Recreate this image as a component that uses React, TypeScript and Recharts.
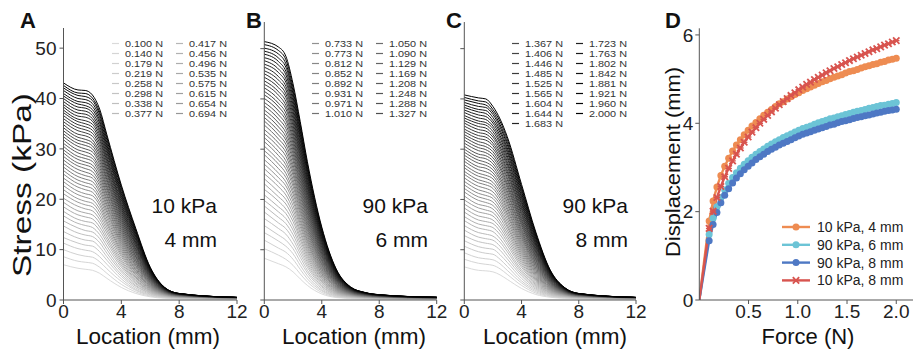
import React from "react";
import { LineChart, Line, XAxis, YAxis } from "recharts";

const FONT = "'Liberation Sans', Arial, Helvetica, sans-serif";
const AXIS = "#555";

// sample locations along the sensor (mm)
const locations = [0, 1, 1.5, 2, 2.5, 3, 4, 5, 6, 7, 8, 12];

// applied forces (N), also used as legend text
const forceLabels = [
  "0.100", "0.140", "0.179", "0.219", "0.258", "0.298", "0.338", "0.377",
  "0.417", "0.456", "0.496", "0.535", "0.575", "0.615", "0.654", "0.694",
  "0.733", "0.773", "0.812", "0.852", "0.892", "0.931", "0.971", "1.010",
  "1.050", "1.090", "1.129", "1.169", "1.208", "1.248", "1.288", "1.327",
  "1.367", "1.406", "1.446", "1.485", "1.525", "1.565", "1.604", "1.644",
  "1.683", "1.723", "1.763", "1.802", "1.842", "1.881", "1.921", "1.960", "2.000",
];

// stress (kPa) at each location, one row per force — 10 kPa, 4 mm
const stressSoft4 = [
  [7.0, 6.3, 6.1, 5.9, 5.3, 4.3, 2.5, 1.3, 0.63, 0.35, 0.25, 0.14],
  [8.6, 7.7, 7.5, 7.3, 6.5, 5.3, 3.1, 1.6, 0.78, 0.43, 0.30, 0.17],
  [10.0, 9.0, 8.7, 8.5, 7.6, 6.2, 3.7, 1.9, 0.92, 0.50, 0.35, 0.20],
  [11.3, 10.2, 9.9, 9.6, 8.6, 7.1, 4.2, 2.1, 1.06, 0.57, 0.39, 0.22],
  [12.4, 11.3, 10.9, 10.7, 9.6, 7.9, 4.7, 2.4, 1.18, 0.63, 0.43, 0.24],
  [13.6, 12.3, 11.9, 11.7, 10.5, 8.6, 5.1, 2.7, 1.31, 0.69, 0.47, 0.26],
  [14.7, 13.3, 12.9, 12.6, 11.4, 9.3, 5.6, 2.9, 1.43, 0.75, 0.50, 0.28],
  [15.7, 14.3, 13.8, 13.5, 12.2, 10.0, 6.0, 3.2, 1.55, 0.80, 0.54, 0.29],
  [16.7, 15.2, 14.8, 14.4, 13.0, 10.7, 6.5, 3.4, 1.67, 0.85, 0.57, 0.31],
  [17.6, 16.0, 15.6, 15.3, 13.8, 11.4, 6.9, 3.7, 1.78, 0.91, 0.60, 0.32],
  [18.5, 16.9, 16.5, 16.1, 14.5, 12.0, 7.3, 3.9, 1.90, 0.96, 0.63, 0.34],
  [19.4, 17.7, 17.3, 16.9, 15.3, 12.6, 7.7, 4.1, 2.01, 1.00, 0.66, 0.35],
  [20.2, 18.6, 18.1, 17.7, 16.0, 13.3, 8.1, 4.4, 2.13, 1.05, 0.68, 0.36],
  [21.1, 19.4, 18.9, 18.5, 16.7, 13.9, 8.6, 4.6, 2.24, 1.10, 0.71, 0.37],
  [21.9, 20.1, 19.6, 19.2, 17.4, 14.5, 9.0, 4.9, 2.36, 1.15, 0.74, 0.38],
  [22.7, 20.9, 20.4, 19.9, 18.1, 15.1, 9.4, 5.1, 2.47, 1.19, 0.76, 0.39],
  [23.5, 21.6, 21.1, 20.7, 18.8, 15.6, 9.8, 5.4, 2.59, 1.24, 0.78, 0.40],
  [24.2, 22.4, 21.9, 21.4, 19.4, 16.2, 10.2, 5.6, 2.70, 1.28, 0.81, 0.41],
  [25.0, 23.1, 22.6, 22.1, 20.1, 16.8, 10.6, 5.9, 2.81, 1.32, 0.83, 0.42],
  [25.7, 23.8, 23.3, 22.8, 20.7, 17.4, 11.0, 6.1, 2.93, 1.37, 0.85, 0.43],
  [26.4, 24.5, 24.0, 23.5, 21.4, 17.9, 11.4, 6.4, 3.05, 1.41, 0.87, 0.44],
  [27.1, 25.2, 24.7, 24.2, 22.0, 18.5, 11.8, 6.7, 3.16, 1.45, 0.89, 0.44],
  [27.8, 25.9, 25.4, 24.8, 22.7, 19.0, 12.2, 6.9, 3.28, 1.49, 0.91, 0.45],
  [28.5, 26.6, 26.1, 25.5, 23.3, 19.6, 12.6, 7.2, 3.39, 1.53, 0.93, 0.45],
  [29.2, 27.2, 26.8, 26.2, 23.9, 20.1, 13.0, 7.4, 3.51, 1.58, 0.95, 0.46],
  [29.8, 27.9, 27.4, 26.8, 24.5, 20.7, 13.4, 7.7, 3.63, 1.62, 0.97, 0.47],
  [30.5, 28.5, 28.1, 27.5, 25.1, 21.2, 13.8, 7.9, 3.75, 1.66, 0.99, 0.47],
  [31.1, 29.2, 28.7, 28.1, 25.7, 21.8, 14.2, 8.2, 3.87, 1.70, 1.00, 0.48],
  [31.8, 29.8, 29.4, 28.7, 26.3, 22.3, 14.6, 8.5, 3.98, 1.74, 1.02, 0.48],
  [32.4, 30.5, 30.0, 29.4, 26.9, 22.8, 15.0, 8.7, 4.10, 1.78, 1.04, 0.48],
  [33.0, 31.1, 30.7, 30.0, 27.5, 23.4, 15.4, 9.0, 4.23, 1.82, 1.06, 0.49],
  [33.6, 31.7, 31.3, 30.6, 28.1, 23.9, 15.8, 9.3, 4.35, 1.86, 1.07, 0.49],
  [34.2, 32.3, 31.9, 31.2, 28.7, 24.4, 16.2, 9.6, 4.47, 1.89, 1.09, 0.49],
  [34.8, 32.9, 32.6, 31.8, 29.3, 25.0, 16.6, 9.8, 4.59, 1.93, 1.10, 0.50],
  [35.4, 33.6, 33.2, 32.5, 29.9, 25.5, 17.0, 10.1, 4.71, 1.97, 1.12, 0.50],
  [36.0, 34.2, 33.8, 33.1, 30.5, 26.0, 17.4, 10.4, 4.83, 2.01, 1.13, 0.50],
  [36.6, 34.8, 34.4, 33.7, 31.1, 26.5, 17.8, 10.7, 4.96, 2.05, 1.15, 0.50],
  [37.2, 35.4, 35.0, 34.3, 31.7, 27.1, 18.2, 11.0, 5.09, 2.09, 1.16, 0.50],
  [37.7, 35.9, 35.6, 34.9, 32.2, 27.6, 18.6, 11.2, 5.21, 2.13, 1.18, 0.50],
  [38.3, 36.5, 36.3, 35.5, 32.8, 28.1, 19.0, 11.5, 5.34, 2.16, 1.19, 0.50],
  [38.8, 37.1, 36.9, 36.0, 33.4, 28.6, 19.4, 11.8, 5.46, 2.20, 1.20, 0.50],
  [39.4, 37.7, 37.5, 36.6, 33.9, 29.2, 19.9, 12.1, 5.59, 2.24, 1.22, 0.50],
  [40.0, 38.3, 38.1, 37.2, 34.5, 29.7, 20.3, 12.4, 5.72, 2.28, 1.23, 0.50],
  [40.5, 38.9, 38.6, 37.8, 35.1, 30.2, 20.7, 12.7, 5.85, 2.31, 1.24, 0.50],
  [41.0, 39.4, 39.2, 38.4, 35.6, 30.7, 21.1, 13.0, 5.98, 2.35, 1.25, 0.50],
  [41.6, 40.0, 39.8, 39.0, 36.2, 31.2, 21.5, 13.3, 6.11, 2.39, 1.27, 0.50],
  [42.1, 40.6, 40.4, 39.6, 36.8, 31.8, 22.0, 13.6, 6.24, 2.43, 1.28, 0.50],
  [42.6, 41.1, 41.0, 40.1, 37.3, 32.3, 22.4, 13.9, 6.37, 2.46, 1.29, 0.50],
  [43.1, 41.7, 41.6, 40.7, 37.9, 32.8, 22.8, 14.2, 6.50, 2.50, 1.30, 0.50],
];

// 90 kPa, 6 mm
const stressStiff6 = [
  [8.3, 7.2, 6.6, 5.6, 4.2, 2.9, 1.2, 0.50, 0.30, 0.22, 0.18, 0.12],
  [10.2, 8.9, 8.1, 6.9, 5.2, 3.6, 1.5, 0.63, 0.37, 0.27, 0.22, 0.15],
  [11.9, 10.3, 9.5, 8.1, 6.1, 4.2, 1.8, 0.74, 0.43, 0.31, 0.26, 0.17],
  [13.4, 11.7, 10.7, 9.2, 6.9, 4.8, 2.0, 0.86, 0.50, 0.36, 0.29, 0.19],
  [14.8, 12.9, 11.9, 10.2, 7.7, 5.4, 2.3, 0.96, 0.55, 0.40, 0.32, 0.21],
  [16.2, 14.2, 13.1, 11.1, 8.5, 5.9, 2.6, 1.07, 0.61, 0.43, 0.35, 0.23],
  [17.5, 15.3, 14.2, 12.1, 9.2, 6.5, 2.8, 1.18, 0.66, 0.47, 0.37, 0.24],
  [18.7, 16.4, 15.2, 13.0, 9.9, 7.0, 3.1, 1.29, 0.71, 0.50, 0.40, 0.26],
  [19.8, 17.5, 16.2, 13.9, 10.6, 7.5, 3.3, 1.39, 0.76, 0.53, 0.43, 0.27],
  [20.9, 18.5, 17.2, 14.7, 11.3, 8.0, 3.6, 1.50, 0.81, 0.56, 0.45, 0.29],
  [22.0, 19.6, 18.1, 15.6, 12.0, 8.5, 3.8, 1.60, 0.86, 0.60, 0.47, 0.30],
  [23.1, 20.5, 19.1, 16.4, 12.6, 9.0, 4.1, 1.71, 0.91, 0.63, 0.49, 0.31],
  [24.1, 21.5, 20.0, 17.2, 13.3, 9.5, 4.3, 1.81, 0.96, 0.65, 0.51, 0.32],
  [25.1, 22.5, 20.9, 18.0, 13.9, 10.0, 4.6, 1.92, 1.01, 0.68, 0.54, 0.33],
  [26.1, 23.4, 21.8, 18.8, 14.6, 10.5, 4.8, 2.03, 1.05, 0.71, 0.56, 0.35],
  [27.0, 24.3, 22.7, 19.6, 15.2, 11.0, 5.1, 2.14, 1.10, 0.74, 0.58, 0.36],
  [27.9, 25.2, 23.5, 20.3, 15.8, 11.5, 5.3, 2.24, 1.15, 0.77, 0.59, 0.37],
  [28.9, 26.1, 24.4, 21.1, 16.4, 11.9, 5.6, 2.35, 1.19, 0.79, 0.61, 0.38],
  [29.7, 27.0, 25.2, 21.8, 17.1, 12.4, 5.8, 2.46, 1.24, 0.82, 0.63, 0.38],
  [30.6, 27.8, 26.1, 22.6, 17.7, 12.9, 6.1, 2.58, 1.28, 0.84, 0.65, 0.39],
  [31.5, 28.7, 26.9, 23.3, 18.3, 13.4, 6.3, 2.69, 1.33, 0.87, 0.67, 0.40],
  [32.3, 29.5, 27.7, 24.0, 18.9, 13.9, 6.6, 2.80, 1.37, 0.89, 0.68, 0.41],
  [33.1, 30.4, 28.6, 24.8, 19.5, 14.4, 6.9, 2.91, 1.42, 0.92, 0.70, 0.42],
  [33.9, 31.2, 29.4, 25.5, 20.1, 14.8, 7.1, 3.03, 1.47, 0.94, 0.72, 0.42],
  [34.8, 32.0, 30.2, 26.2, 20.8, 15.3, 7.4, 3.14, 1.51, 0.97, 0.73, 0.43],
  [35.6, 32.8, 31.0, 26.9, 21.4, 15.8, 7.7, 3.26, 1.56, 0.99, 0.75, 0.44],
  [36.3, 33.6, 31.8, 27.7, 22.0, 16.3, 7.9, 3.38, 1.60, 1.02, 0.77, 0.44],
  [37.1, 34.4, 32.5, 28.4, 22.6, 16.8, 8.2, 3.50, 1.65, 1.04, 0.78, 0.45],
  [37.8, 35.2, 33.3, 29.1, 23.2, 17.3, 8.5, 3.62, 1.69, 1.06, 0.80, 0.46],
  [38.6, 36.0, 34.1, 29.8, 23.8, 17.8, 8.8, 3.74, 1.74, 1.09, 0.81, 0.46],
  [39.3, 36.8, 34.9, 30.5, 24.4, 18.3, 9.05, 3.86, 1.78, 1.11, 0.83, 0.47],
  [40.1, 37.6, 35.7, 31.2, 25.0, 18.8, 9.3, 3.98, 1.83, 1.13, 0.84, 0.47],
  [40.8, 38.4, 36.4, 31.9, 25.6, 19.3, 9.6, 4.11, 1.88, 1.16, 0.85, 0.48],
  [41.5, 39.1, 37.2, 32.6, 26.2, 19.8, 9.9, 4.23, 1.92, 1.18, 0.87, 0.48],
  [42.2, 39.9, 38.0, 33.3, 26.8, 20.3, 10.2, 4.36, 1.97, 1.20, 0.88, 0.49],
  [42.9, 40.7, 38.7, 34.0, 27.5, 20.8, 10.5, 4.48, 2.01, 1.23, 0.90, 0.49],
  [43.6, 41.4, 39.5, 34.7, 28.1, 21.3, 10.8, 4.61, 2.06, 1.25, 0.91, 0.50],
  [44.3, 42.2, 40.3, 35.4, 28.7, 21.8, 11.1, 4.74, 2.10, 1.27, 0.92, 0.50],
  [45.0, 42.9, 41.0, 36.1, 29.3, 22.3, 11.4, 4.87, 2.15, 1.29, 0.94, 0.51],
  [45.6, 43.7, 41.8, 36.8, 29.9, 22.8, 11.7, 5.00, 2.20, 1.32, 0.95, 0.51],
  [46.3, 44.4, 42.5, 37.5, 30.5, 23.3, 12.0, 5.13, 2.24, 1.34, 0.96, 0.51],
  [46.9, 45.2, 43.3, 38.2, 31.1, 23.8, 12.3, 5.26, 2.29, 1.36, 0.98, 0.52],
  [47.6, 45.9, 44.0, 38.9, 31.8, 24.3, 12.6, 5.40, 2.34, 1.38, 0.99, 0.52],
  [48.2, 46.7, 44.8, 39.6, 32.4, 24.9, 12.9, 5.53, 2.38, 1.40, 1.00, 0.52],
  [48.9, 47.4, 45.5, 40.3, 33.0, 25.4, 13.2, 5.67, 2.43, 1.42, 1.01, 0.53],
  [49.5, 48.1, 46.3, 41.0, 33.6, 25.9, 13.5, 5.80, 2.48, 1.45, 1.02, 0.53],
  [50.1, 48.9, 47.0, 41.6, 34.2, 26.4, 13.8, 5.94, 2.52, 1.47, 1.04, 0.53],
  [50.8, 49.6, 47.8, 42.3, 34.9, 26.9, 14.2, 6.08, 2.57, 1.49, 1.05, 0.53],
  [51.4, 50.3, 48.5, 43.0, 35.5, 27.5, 14.5, 6.20, 2.62, 1.50, 1.06, 0.54],
];

// 90 kPa, 8 mm
const stressStiff8 = [
  [6.6, 5.9, 5.8, 5.6, 5.0, 4.1, 2.3, 1.10, 0.55, 0.33, 0.24, 0.14],
  [8.1, 7.3, 7.1, 6.9, 6.2, 5.1, 2.9, 1.38, 0.69, 0.41, 0.29, 0.17],
  [9.4, 8.4, 8.2, 8.0, 7.2, 5.9, 3.4, 1.63, 0.81, 0.47, 0.34, 0.20],
  [10.7, 9.6, 9.3, 9.1, 8.1, 6.7, 3.8, 1.88, 0.93, 0.54, 0.38, 0.22],
  [11.8, 10.6, 10.3, 10.1, 9.0, 7.5, 4.3, 2.12, 1.04, 0.60, 0.42, 0.24],
  [12.8, 11.6, 11.3, 11.0, 9.9, 8.2, 4.8, 2.35, 1.15, 0.66, 0.46, 0.26],
  [13.9, 12.5, 12.2, 11.9, 10.7, 8.9, 5.2, 2.59, 1.26, 0.71, 0.50, 0.28],
  [14.8, 13.4, 13.1, 12.7, 11.5, 9.6, 5.6, 2.82, 1.37, 0.76, 0.53, 0.29],
  [15.8, 14.3, 14.0, 13.6, 12.2, 10.2, 6.0, 3.05, 1.48, 0.82, 0.56, 0.31],
  [16.6, 15.1, 14.8, 14.4, 13.0, 10.9, 6.5, 3.28, 1.58, 0.86, 0.59, 0.32],
  [17.5, 15.9, 15.6, 15.2, 13.7, 11.5, 6.9, 3.51, 1.69, 0.91, 0.62, 0.34],
  [18.3, 16.7, 16.4, 15.9, 14.4, 12.1, 7.3, 3.74, 1.79, 0.96, 0.65, 0.35],
  [19.1, 17.5, 17.2, 16.7, 15.1, 12.7, 7.7, 3.97, 1.90, 1.01, 0.67, 0.36],
  [19.9, 18.3, 17.9, 17.4, 15.7, 13.3, 8.1, 4.20, 2.00, 1.06, 0.70, 0.37],
  [20.7, 19.0, 18.7, 18.1, 16.4, 13.9, 8.5, 4.43, 2.11, 1.10, 0.72, 0.38],
  [21.5, 19.8, 19.4, 18.8, 17.1, 14.5, 8.9, 4.67, 2.21, 1.15, 0.75, 0.39],
  [22.2, 20.5, 20.1, 19.5, 17.7, 15.0, 9.3, 4.90, 2.32, 1.19, 0.77, 0.40],
  [22.9, 21.2, 20.8, 20.2, 18.3, 15.6, 9.7, 5.14, 2.42, 1.24, 0.79, 0.41],
  [23.6, 21.9, 21.5, 20.8, 19.0, 16.2, 10.1, 5.38, 2.53, 1.28, 0.82, 0.42],
  [24.3, 22.6, 22.2, 21.5, 19.6, 16.8, 10.5, 5.62, 2.64, 1.32, 0.84, 0.43],
  [25.0, 23.3, 22.9, 22.2, 20.2, 17.3, 10.9, 5.87, 2.74, 1.37, 0.86, 0.44],
  [25.6, 23.9, 23.5, 22.8, 20.8, 17.9, 11.3, 6.11, 2.85, 1.41, 0.88, 0.44],
  [26.3, 24.6, 24.2, 23.4, 21.4, 18.4, 11.75, 6.36, 2.96, 1.45, 0.90, 0.45],
  [26.9, 25.2, 24.8, 24.1, 22.0, 19.0, 12.2, 6.61, 3.07, 1.49, 0.92, 0.45],
  [27.6, 25.9, 25.5, 24.7, 22.6, 19.5, 12.6, 6.86, 3.18, 1.53, 0.94, 0.46],
  [28.2, 26.5, 26.2, 25.3, 23.2, 20.1, 13.0, 7.11, 3.29, 1.58, 0.96, 0.47],
  [28.8, 27.2, 26.8, 25.9, 23.8, 20.6, 13.4, 7.36, 3.40, 1.62, 0.98, 0.47],
  [29.4, 27.8, 27.4, 26.5, 24.3, 21.2, 13.8, 7.62, 3.51, 1.66, 0.99, 0.48],
  [30.0, 28.4, 28.1, 27.1, 24.9, 21.7, 14.2, 7.88, 3.62, 1.70, 1.01, 0.48],
  [30.6, 29.0, 28.7, 27.7, 25.5, 22.3, 14.7, 8.14, 3.73, 1.74, 1.03, 0.48],
  [31.2, 29.7, 29.3, 28.3, 26.1, 22.8, 15.1, 8.41, 3.84, 1.78, 1.05, 0.49],
  [31.8, 30.3, 29.9, 28.9, 26.6, 23.3, 15.5, 8.67, 3.96, 1.82, 1.06, 0.49],
  [32.4, 30.9, 30.5, 29.5, 27.2, 23.9, 15.9, 8.94, 4.07, 1.86, 1.08, 0.49],
  [32.9, 31.5, 31.1, 30.1, 27.8, 24.4, 16.3, 9.21, 4.19, 1.90, 1.10, 0.50],
  [33.5, 32.1, 31.8, 30.7, 28.3, 25.0, 16.8, 9.48, 4.30, 1.94, 1.11, 0.50],
  [34.0, 32.7, 32.4, 31.2, 28.9, 25.5, 17.2, 9.75, 4.42, 1.98, 1.13, 0.50],
  [34.6, 33.3, 33.0, 31.8, 29.4, 26.0, 17.6, 10.0, 4.54, 2.02, 1.14, 0.50],
  [35.2, 33.9, 33.6, 32.4, 30.0, 26.6, 18.1, 10.3, 4.66, 2.06, 1.16, 0.50],
  [35.7, 34.5, 34.2, 32.9, 30.5, 27.1, 18.5, 10.6, 4.77, 2.10, 1.17, 0.50],
  [36.2, 35.1, 34.8, 33.5, 31.1, 27.6, 19.0, 10.9, 4.89, 2.14, 1.18, 0.50],
  [36.7, 35.6, 35.3, 34.1, 31.6, 28.2, 19.4, 11.1, 5.01, 2.18, 1.20, 0.50],
  [37.3, 36.2, 35.9, 34.6, 32.2, 28.7, 19.8, 11.4, 5.13, 2.22, 1.21, 0.50],
  [37.8, 36.8, 36.5, 35.2, 32.7, 29.3, 20.3, 11.7, 5.26, 2.26, 1.23, 0.50],
  [38.3, 37.4, 37.1, 35.7, 33.3, 29.8, 20.7, 12.0, 5.38, 2.30, 1.24, 0.50],
  [38.8, 37.9, 37.7, 36.3, 33.8, 30.3, 21.2, 12.3, 5.50, 2.34, 1.25, 0.50],
  [39.3, 38.5, 38.3, 36.9, 34.4, 30.9, 21.6, 12.6, 5.63, 2.38, 1.26, 0.50],
  [39.8, 39.1, 38.8, 37.4, 34.9, 31.4, 22.1, 12.9, 5.75, 2.42, 1.28, 0.50],
  [40.3, 39.6, 39.4, 37.9, 35.5, 32.0, 22.5, 13.2, 5.88, 2.46, 1.29, 0.50],
  [40.8, 40.2, 40.0, 38.5, 36.0, 32.5, 23.0, 13.5, 6.00, 2.50, 1.30, 0.50],
];

// displacement (mm) vs force; first value is the unloaded origin
const dispSoft4 = [0, 1.79, 2.24, 2.56, 2.82, 3.03, 3.21, 3.37, 3.51, 3.63, 3.74, 3.84, 3.94, 4.02, 4.10, 4.18, 4.25, 4.31, 4.38, 4.44, 4.49, 4.55, 4.60, 4.65, 4.69, 4.74, 4.78, 4.82, 4.86, 4.90, 4.94, 4.97, 5.01, 5.04, 5.07, 5.10, 5.14, 5.17, 5.19, 5.22, 5.25, 5.28, 5.30, 5.33, 5.35, 5.38, 5.40, 5.43, 5.45, 5.47];
const dispStiff6 = [0, 1.48, 1.85, 2.11, 2.32, 2.49, 2.64, 2.77, 2.88, 2.98, 3.07, 3.15, 3.23, 3.30, 3.36, 3.42, 3.48, 3.53, 3.58, 3.63, 3.68, 3.72, 3.76, 3.80, 3.84, 3.88, 3.91, 3.94, 3.98, 4.01, 4.04, 4.07, 4.10, 4.12, 4.15, 4.17, 4.20, 4.22, 4.25, 4.27, 4.29, 4.31, 4.34, 4.36, 4.38, 4.40, 4.41, 4.43, 4.45, 4.47];
const dispStiff8 = [0, 1.34, 1.71, 1.98, 2.20, 2.37, 2.52, 2.65, 2.76, 2.86, 2.95, 3.03, 3.10, 3.18, 3.24, 3.30, 3.36, 3.41, 3.46, 3.51, 3.55, 3.59, 3.63, 3.67, 3.71, 3.75, 3.78, 3.81, 3.84, 3.87, 3.90, 3.93, 3.96, 3.98, 4.01, 4.04, 4.06, 4.08, 4.11, 4.13, 4.15, 4.17, 4.19, 4.21, 4.23, 4.25, 4.27, 4.29, 4.30, 4.32];
const dispSoft8 = [0, 1.62, 2.01, 2.32, 2.57, 2.79, 2.98, 3.15, 3.30, 3.44, 3.57, 3.69, 3.80, 3.90, 4.00, 4.09, 4.18, 4.26, 4.34, 4.42, 4.49, 4.56, 4.63, 4.69, 4.76, 4.82, 4.88, 4.93, 4.99, 5.04, 5.09, 5.14, 5.19, 5.24, 5.28, 5.33, 5.37, 5.42, 5.46, 5.50, 5.54, 5.58, 5.62, 5.66, 5.69, 5.73, 5.77, 5.80, 5.84, 5.87];

const dispSeries = [
  { key: "soft4", name: "10 kPa, 4 mm", values: dispSoft4, color: "#EE8C52", marker: "circle" },
  { key: "stiff6", name: "90 kPa, 6 mm", values: dispStiff6, color: "#6CC4D6", marker: "circle" },
  { key: "stiff8", name: "90 kPa, 8 mm", values: dispStiff8, color: "#4E78C4", marker: "circle" },
  { key: "soft8", name: "10 kPa, 8 mm", values: dispSoft8, color: "#D8544F", marker: "cross" },
];

const shade = (i: number) => {
  const v = Math.round(218 * (1 - i / 48));
  return `rgb(${v},${v},${v})`;
};

function profileTable(rows: number[][]) {
  return locations.map((x, j) => {
    const row: Record<string, number> = { x };
    rows.forEach((r, i) => {
      row[`f${i}`] = r[j];
    });
    return row;
  });
}

const tickStyle = { fill: "#222", fontSize: 19, fontFamily: FONT };

function StressPanel(props: {
  rows: number[][];
  left: number;
  width: number;
  top: number;
  yMax: number;
  yAxisWidth: number;
  right: number;
  labels: boolean;
}) {
  const { rows, left, width, top, yMax, yAxisWidth, right, labels } = props;
  const data = profileTable(rows);
  return (
    <div style={{ position: "absolute", left, top: 0 }}>
      <LineChart width={width} height={349} data={data} margin={{ top, right, bottom: 0, left: 0 }}>
        <XAxis
          dataKey="x"
          type="number"
          domain={[0, 12]}
          ticks={[0, 4, 8, 12]}
          interval={0}
          height={49}
          tickSize={4}
          tickMargin={1}
          stroke={AXIS}
          tick={tickStyle}
        />
        <YAxis
          type="number"
          domain={[0, yMax]}
          ticks={[0, 10, 20, 30, 40, 50]}
          interval={0}
          width={yAxisWidth}
          tickSize={4}
          tickMargin={3}
          stroke={AXIS}
          tick={tickStyle}
          tickFormatter={labels ? undefined : () => ""}
          allowDataOverflow
        />
        {rows.map((_, i) => (
          <Line
            key={i}
            dataKey={`f${i}`}
            type="monotone"
            stroke={shade(i)}
            strokeWidth={1}
            dot={false}
            isAnimationActive={false}
          />
        ))}
      </LineChart>
    </div>
  );
}

const CrossDot = (props: any) => {
  const { cx, cy, stroke, index } = props;
  if (cx == null || cy == null || index === 0) return <g key={index} />;
  const s = 3.2;
  return (
    <g key={index}>
      <line x1={cx - s} y1={cy - s} x2={cx + s} y2={cy + s} stroke={stroke} strokeWidth={1.8} />
      <line x1={cx - s} y1={cy + s} x2={cx + s} y2={cy - s} stroke={stroke} strokeWidth={1.8} />
      <line x1={cx - s} y1={cy} x2={cx + s} y2={cy} stroke={stroke} strokeWidth={1.3} />
    </g>
  );
};

const CircleDot = (props: any) => {
  const { cx, cy, stroke, index } = props;
  if (cx == null || cy == null || index === 0) return <g key={index} />;
  return <circle key={index} cx={cx} cy={cy} r={3.5} fill={stroke} />;
};

function DisplacementPanel() {
  const forceAxis = [0, ...forceLabels.map(Number)];
  const data = forceAxis.map((f, i) => {
    const row: Record<string, number> = { f };
    dispSeries.forEach((s) => {
      row[s.key] = s.values[i];
    });
    return row;
  });
  return (
    <div style={{ position: "absolute", left: 650, top: 0 }}>
      <LineChart width={264} height={349} data={data} margin={{ top: 28.3, right: 1, bottom: 0, left: 0 }}>
        <XAxis
          dataKey="f"
          type="number"
          domain={[0, 2.17]}
          ticks={[0.5, 1, 1.5, 2]}
          interval={0}
          height={49}
          tickSize={4}
          tickMargin={1}
          stroke={AXIS}
          tick={tickStyle}
          tickFormatter={(v: number) => v.toFixed(1)}
          allowDataOverflow
        />
        <YAxis
          type="number"
          domain={[0, 6.15]}
          ticks={[0, 2, 4, 6]}
          interval={0}
          width={49.3}
          tickSize={4}
          tickMargin={2}
          stroke={AXIS}
          tick={tickStyle}
          allowDataOverflow
        />
        {dispSeries.map((s) => (
          <Line
            key={s.key}
            dataKey={s.key}
            type="linear"
            stroke={s.color}
            strokeWidth={2.4}
            dot={s.marker === "cross" ? <CrossDot /> : <CircleDot />}
            isAnimationActive={false}
          />
        ))}
      </LineChart>
    </div>
  );
}

function ForceLegend(props: { start: number; split: number; end: number; x1: number; x2: number }) {
  const { start, split, end, x1, x2 } = props;
  const items: React.ReactNode[] = [];
  for (let i = start; i < end; i++) {
    const col = i < split ? 0 : 1;
    const row = col === 0 ? i - start : i - split;
    const x = col === 0 ? x1 : x2;
    const y = 43.5 + row * 10;
    items.push(
      <g key={i}>
        <line x1={x} y1={y} x2={x + 7} y2={y} stroke={shade(i)} strokeWidth={1.2} />
        <text
          x={x + 13}
          y={y + 3.3}
          fontSize={8.6}
          textLength={38}
          lengthAdjust="spacingAndGlyphs"
          fill="#333"
          fontFamily={FONT}
        >
          {forceLabels[i]} N
        </text>
      </g>
    );
  }
  return <>{items}</>;
}

function Overlay() {
  const big = { fontFamily: FONT, fill: "#111" };
  return (
    <svg width={914} height={349} style={{ position: "absolute", left: 0, top: 0, pointerEvents: "none" }}>
      {/* panel letters */}
      <text x={20} y={28} fontSize={22} fontWeight="bold" {...big}>A</text>
      <text x={246} y={28} fontSize={22} fontWeight="bold" {...big}>B</text>
      <text x={446} y={28} fontSize={22} fontWeight="bold" {...big}>C</text>
      <text x={665} y={28} fontSize={22} fontWeight="bold" {...big}>D</text>

      {/* axis titles */}
      <text
        transform="translate(31,185) rotate(-90)"
        textAnchor="middle"
        fontSize={26}
        textLength={184}
        lengthAdjust="spacingAndGlyphs"
        {...big}
      >
        Stress (kPa)
      </text>
      <text x={148} y={344} textAnchor="middle" fontSize={22.5} {...big}>Location (mm)</text>
      <text x={354} y={344} textAnchor="middle" fontSize={22.5} {...big}>Location (mm)</text>
      <text x={555} y={344} textAnchor="middle" fontSize={22.5} {...big}>Location (mm)</text>
      <text x={808} y={344} textAnchor="middle" fontSize={22} {...big}>Force (N)</text>
      <text
        transform="translate(680,162) rotate(-90)"
        textAnchor="middle"
        fontSize={21}
        textLength={190}
        lengthAdjust="spacingAndGlyphs"
        {...big}
      >
        Displacement (mm)
      </text>

      {/* condition annotations */}
      <text x={217} y={213} textAnchor="end" fontSize={21} {...big}>10 kPa</text>
      <text x={217} y={247} textAnchor="end" fontSize={21} {...big}>4 mm</text>
      <text x={428} y={213} textAnchor="end" fontSize={21} {...big}>90 kPa</text>
      <text x={428} y={247} textAnchor="end" fontSize={21} {...big}>6 mm</text>
      <text x={628} y={213} textAnchor="end" fontSize={21} {...big}>90 kPa</text>
      <text x={628} y={247} textAnchor="end" fontSize={21} {...big}>8 mm</text>

      {/* force legends */}
      <ForceLegend start={0} split={8} end={16} x1={112} x2={176} />
      <ForceLegend start={16} split={24} end={32} x1={312} x2={376} />
      <ForceLegend start={32} split={41} end={49} x1={512} x2={576} />

      {/* displacement legend */}
      {dispSeries.map((s, i) => {
        const y = 227 + i * 17.8;
        return (
          <g key={s.key}>
            <line x1={782} y1={y} x2={810} y2={y} stroke={s.color} strokeWidth={2.4} />
            {s.marker === "cross" ? (
              <CrossDot cx={796} cy={y} stroke={s.color} index={1} />
            ) : (
              <circle cx={796} cy={y} r={3.5} fill={s.color} />
            )}
            <text x={817} y={y + 5} fontSize={14} fill="#222" fontFamily={FONT}>
              {s.name}
            </text>
          </g>
        );
      })}
    </svg>
  );
}

export default function App() {
  return (
    <div style={{ position: "absolute", left: 0, top: 0, width: 914, height: 349, background: "#fff", overflow: "hidden" }}>
      <StressPanel rows={stressSoft4} left={0} width={250} top={28} yMax={54} yAxisWidth={63.5} right={13} labels />
      <StressPanel rows={stressStiff6} left={250} width={200} top={22} yMax={55.3} yAxisWidth={14.3} right={13.3} labels={false} />
      <StressPanel rows={stressStiff8} left={450} width={200} top={22} yMax={55.3} yAxisWidth={14.3} right={14} labels={false} />
      <DisplacementPanel />
      <Overlay />
    </div>
  );
}
